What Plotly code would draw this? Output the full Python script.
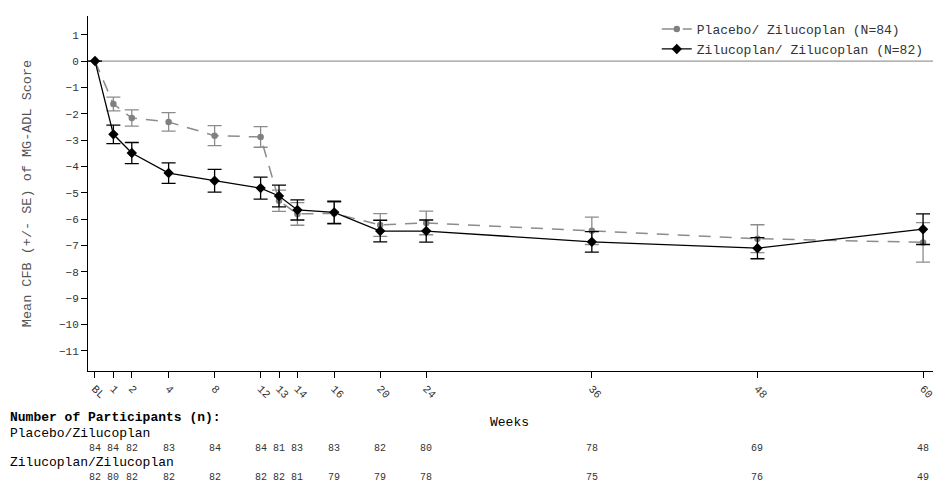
import numpy as np
import plotly.graph_objects as go

# visits (weeks) and tick labels
weeks = [0, 1, 2, 4, 8, 12, 13, 14, 16, 20, 24, 36, 48, 60]
tick_labels = ['BL', '1', '2', '4', '8', '12', '13', '14', '16', '20', '24', '36', '48', '60']

# Placebo/Zilucoplan: mean change from baseline and SE
pbo_mean = [0, -1.63, -2.16, -2.31, -2.83, -2.88, -5.30, -5.80, -5.78, -6.22, -6.14, -6.44, -6.74, -6.88]
pbo_se = [0, 0.26, 0.31, 0.35, 0.38, 0.39, 0.40, 0.43, 0.42, 0.43, 0.45, 0.52, 0.53, 0.75]

# Zilucoplan/Zilucoplan
zlp_mean = [0, -2.78, -3.49, -4.25, -4.54, -4.82, -5.12, -5.65, -5.74, -6.45, -6.45, -6.86, -7.10, -6.38]
zlp_se = [0, 0.35, 0.40, 0.39, 0.43, 0.42, 0.41, 0.38, 0.42, 0.41, 0.42, 0.39, 0.40, 0.58]

# number of participants at each visit
n_pbo = [84, 84, 82, 83, 84, 84, 81, 83, 83, 82, 80, 78, 69, 48]
n_zlp = [82, 80, 82, 82, 82, 82, 82, 81, 79, 79, 78, 75, 76, 49]

# the week axis of the original is not linear: visit spacing knots
knot_weeks = [0, 4, 12, 14, 16, 24, 60]
knot_units = [0, 4, 9, 11, 13, 18, 45]


def axis_pos(w):
    return np.interp(w, knot_weeks, knot_units)


xpos = axis_pos(weeks)
mono = 'Liberation Mono'

fig = go.Figure()
fig.add_trace(go.Scatter(
    x=xpos, y=pbo_mean, mode='lines+markers',
    name='Placebo/ Zilucoplan (N=84)',
    line=dict(color='#8c8c8c', width=1.5, dash='12px,9px'),
    marker=dict(symbol='circle', size=6.5, color='#808080'),
    error_y=dict(type='data', array=pbo_se, color='#8c8c8c', thickness=1.3, width=7),
))
fig.add_trace(go.Scatter(
    x=xpos, y=zlp_mean, mode='lines+markers',
    name='Zilucoplan/ Zilucoplan (N=82)',
    line=dict(color='#000000', width=1.3),
    marker=dict(symbol='diamond', size=8, color='#000000'),
    error_y=dict(type='data', array=zlp_se, color='#000000', thickness=1.3, width=7),
))

fig.add_hline(y=0, line=dict(color='#999999', width=1.2), layer='below')

# participants table under the axis
row_y = [-0.217, -0.299]
for counts, yy in zip([n_pbo, n_zlp], row_y):
    for xp, c in zip(xpos, counts):
        fig.add_annotation(x=xp, y=yy, xref='x', yref='paper', yanchor='middle',
                           text=str(c), showarrow=False,
                           font=dict(family=mono, size=10, color='#333'))
left = -0.0947
labels = [('<b>Number of Participants (n):</b>', -0.13),
          ('Placebo/Zilucoplan', -0.177),
          ('Zilucoplan/Zilucoplan', -0.259)]
for txt, yy in labels:
    fig.add_annotation(x=left, y=yy, xref='paper', yref='paper', xanchor='left',
                       yanchor='middle', text=txt, showarrow=False,
                       font=dict(family=mono, size=13, color='#000'))
fig.add_annotation(x=axis_pos(30), y=-0.146, xref='x', yref='paper', yanchor='middle',
                   text='Weeks', showarrow=False,
                   font=dict(family=mono, size=13, color='#000'))

# the page body adds an 8px offset, so margins are shifted to compensate
fig.update_layout(
    width=945, height=491,
    margin=dict(l=80, r=20, t=8, b=128, autoexpand=False),
    plot_bgcolor='white', paper_bgcolor='white',
    font=dict(family=mono, size=10, color='#333'),
    showlegend=True,
    legend=dict(x=0.995, y=0.935, xanchor='right', yanchor='middle',
                font=dict(family=mono, size=13, color='#333'),
                bgcolor='rgba(0,0,0,0)', tracegroupgap=0),
    xaxis=dict(range=[-0.38, 45.54], tickvals=xpos, ticktext=tick_labels,
               tickangle=45, showgrid=False, zeroline=False,
               showline=True, linecolor='#000', linewidth=1,
               ticks='outside', ticklen=6, tickcolor='#000',
               tickfont=dict(size=11)),
    yaxis=dict(range=[-11.76, 1.71], dtick=1, showgrid=False, zeroline=False,
               showline=True, linecolor='#000', linewidth=1,
               ticks='outside', ticklen=6, tickcolor='#000',
               tickfont=dict(size=11),
               title=dict(text='Mean CFB (+/- SE) of MG-ADL Score', standoff=24,
                          font=dict(family=mono, size=13.5, color='#555'))),
)

fig.write_html('out.html')
